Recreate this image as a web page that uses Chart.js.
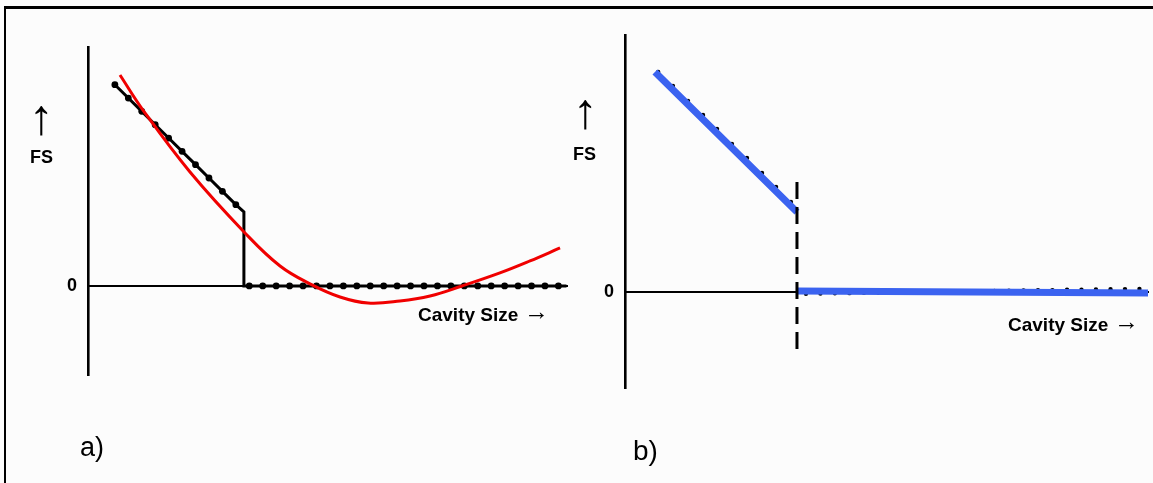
<!DOCTYPE html>
<html>
<head>
<meta charset="utf-8">
<script src="https://cdn.jsdelivr.net/npm/chart.js@4.4.1/dist/chart.umd.min.js"></script>
<style>
  body { margin: 0; background: #fcfcfc; }
  #page { position: relative; width: 1153px; height: 483px; overflow: hidden; background: #fcfcfc; }
  #frame { position: absolute; left: 4px; top: 6px; right: -10px; bottom: -10px;
           border-left: 2px solid #000; border-top: 3px solid #000; }
  canvas { position: absolute; top: 0; }
  #chartA { left: 0; }
  #chartB { left: 580px; }
  .lbl { position: absolute; font-family: "Liberation Sans", Arial, sans-serif; color: #000;
         white-space: nowrap; line-height: 1; }
  .b { font-weight: bold; }
  .arrow { font-size: 50px; }
  .rarrow { font-size: 25px; }
</style>
</head>
<body>
<div id="page">
  <div id="frame"></div>
  <canvas id="chartA" width="580" height="483"></canvas>
  <canvas id="chartB" width="573" height="483"></canvas>

  <div class="lbl arrow" style="left:29px;top:92px;">↑</div>
  <div class="lbl b" style="left:30px;top:148px;font-size:18px;">FS</div>
  <div class="lbl b" style="left:418px;top:305px;font-size:19px;">Cavity Size</div>
  <div class="lbl rarrow" style="left:524px;top:299px;">→</div>
  <div class="lbl" style="left:80px;top:434px;font-size:27px;">a)</div>

  <div class="lbl arrow" style="left:573px;top:86px;">↑</div>
  <div class="lbl b" style="left:573px;top:145px;font-size:18px;">FS</div>
  <div class="lbl b" style="left:1008px;top:315px;font-size:19px;">Cavity Size</div>
  <div class="lbl rarrow" style="left:1114px;top:309px;">→</div>
  <div class="lbl" style="left:633px;top:437px;font-size:28px;">b)</div>
</div>

<script>
// --- panel a: stepped FS with dots, plus smooth red fit ---
const slopeXA = [2, 3, 4, 5, 6, 7, 8, 9, 10, 11];
const slopeYA = [15.1, 14.1, 13.1, 12.1, 11.1, 10.1, 9.1, 8.1, 7.1, 6.1];
const stepXA = 11.6;
const stepTopA = 5.55;
const flatXA = [12, 13, 14, 15, 16, 17, 18, 19, 20, 21, 22, 23, 24, 25, 26, 27, 28, 29, 30, 31, 32, 33, 34, 35];
const endXA = 35.6;

const fitX = [2.38, 4.09, 7.59, 11.68, 14.29, 16.67, 18.75, 20.83, 23.21, 25.45, 27.83, 30.65, 32.89, 35.12];
const fitY = [15.83, 13.2, 8.55, 3.98, 1.5, 0.08, -0.83, -1.28, -1.13, -0.75, 0, 0.98, 1.88, 2.85];

// --- panel b: blue FS with hidden dotted reference and dashed cut ---
const slopeXB = [2.25, 3.25, 4.27, 5.29, 6.24, 7.25, 8.27, 9.29, 10.24, 11.25];
const slopeYB = [15.24, 14.27, 13.23, 12.26, 11.29, 10.25, 9.28, 8.24, 7.27, 6.23];
const flatXB = [12.27, 13.25, 14.23, 15.22, 16.2, 17.18, 18.17, 19.15, 20.13, 21.12, 22.1, 23.08,
                24.07, 25.05, 26.03, 27.02, 28.0, 28.98, 29.97, 30.95, 31.93, 32.92, 33.9, 34.88];
const flatYB = [-0.12, -0.11, -0.09, -0.08, -0.06, -0.05, -0.03, -0.02, 0, 0.01, 0.03, 0.04,
                0.06, 0.07, 0.09, 0.1, 0.12, 0.13, 0.15, 0.16, 0.18, 0.19, 0.2, 0.21];
const blueX = [2.03, 11.66, 11.66, 11.66, 35.46];
const blueY = [15.24, 5.54, null, 0.07, -0.07];
const cutX = 11.66;
const cutY = [7.62, -4.15];

const zip = (xs, ys) => xs.map((x, i) => ({ x, y: ys[i] }));

// black step line: dots only on the sampled points
const stepPts = zip(slopeXA, slopeYA)
  .concat([{ x: stepXA, y: stepTopA }, { x: stepXA, y: 0 }])
  .concat(flatXA.map(x => ({ x, y: 0 })))
  .concat([{ x: endXA, y: 0 }]);
const stepRadius = stepPts.map((p, i) =>
  (i < slopeXA.length || (i >= slopeXA.length + 2 && i < stepPts.length - 1)) ? 3.4 : 0);

const tickFont = { family: '"Liberation Sans", Arial, sans-serif', size: 18, weight: 'bold' };

function axes(xMax, yMin, yMax) {
  return {
    x: {
      type: 'linear', min: 0, max: xMax, position: { y: 0 },
      grid: { display: false },
      ticks: { display: false },
      border: { display: true, color: '#000', width: 2 }
    },
    y: {
      type: 'linear', min: yMin, max: yMax,
      grid: { display: false, drawTicks: false },
      border: { display: true, color: '#000', width: 2.6 },
      afterBuildTicks: axis => { axis.ticks = [{ value: 0 }]; },
      afterFit: axis => { axis.width = 40; },
      ticks: { color: '#000', font: tickFont, padding: 11, callback: v => String(v) }
    }
  };
}

const common = {
  responsive: false,
  animation: false,
  devicePixelRatio: 1,
  plugins: { legend: { display: false }, tooltip: { enabled: false } }
};

new Chart(document.getElementById('chartA'), {
  type: 'line',
  data: {
    datasets: [
      { data: zip(fitX, fitY), borderColor: '#f00000', borderWidth: 3, pointRadius: 0,
        tension: 0.4, clip: false },
      { data: stepPts, borderColor: '#000', borderWidth: 3, pointRadius: stepRadius,
        pointBackgroundColor: '#000', pointBorderWidth: 0, tension: 0 }
    ]
  },
  options: Object.assign({}, common, {
    layout: { padding: { left: 48, right: 13, top: 47, bottom: 108 } },
    scales: axes(35.64, -6.68, 17.93)
  })
});

new Chart(document.getElementById('chartB'), {
  type: 'line',
  data: {
    datasets: [
      { data: cutY.map(y => ({ x: cutX, y })), borderColor: '#000', borderWidth: 3,
        borderDash: [17, 8], pointRadius: 0 },
      { data: zip(blueX, blueY), borderColor: '#3b63f0', borderWidth: 7, pointRadius: 0,
        spanGaps: false, tension: 0 },
      { data: zip(slopeXB, slopeYB).concat(zip(flatXB, flatYB)), showLine: false,
        pointRadius: 2.2, pointBackgroundColor: '#000', pointBorderWidth: 0 }
    ]
  },
  options: Object.assign({}, common, {
    layout: { padding: { left: 5, right: 5, top: 35, bottom: 95 } },
    scales: axes(35.46, -6.65, 17.8)
  })
});
</script>
</body>
</html>
